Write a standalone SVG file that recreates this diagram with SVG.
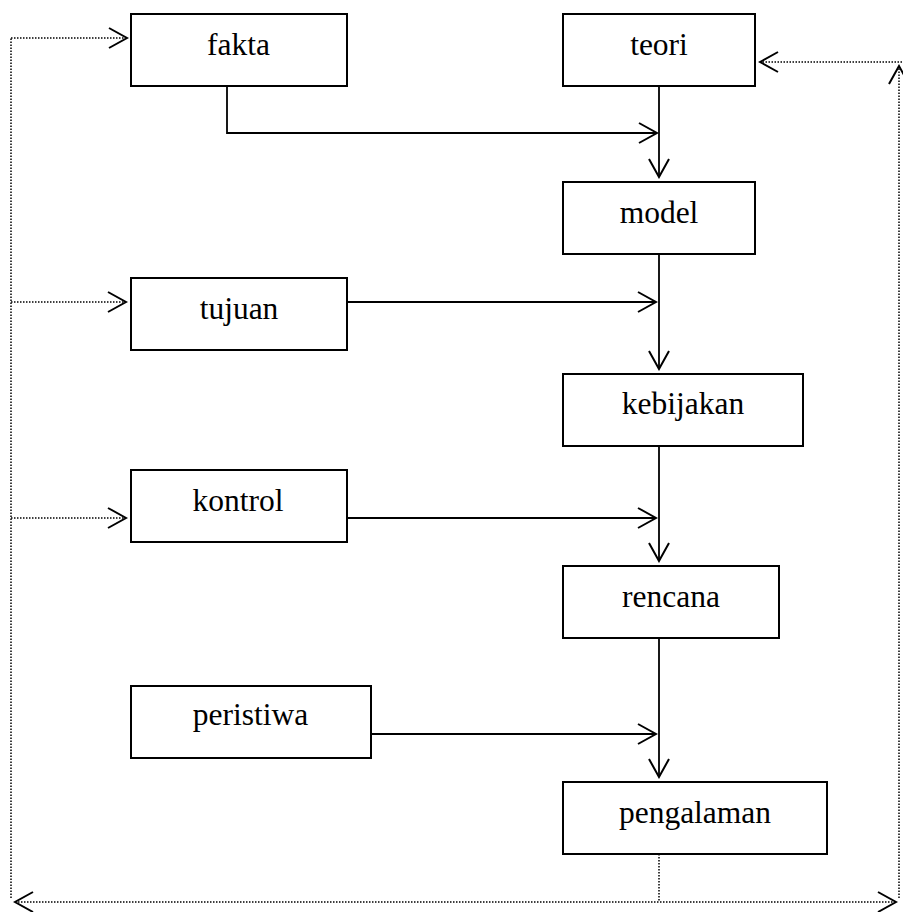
<svg xmlns="http://www.w3.org/2000/svg" width="903" height="912" viewBox="0 0 903 912">
<style>
.box{fill:#fff;stroke:#000;stroke-width:2}
.lbl{font-family:"Liberation Serif","Times New Roman",serif;font-size:31.5px;text-anchor:middle;fill:#000}
.ln{fill:none;stroke:#000;stroke-width:1.8}
.dot{fill:none;stroke:#000;stroke-width:1.5;stroke-dasharray:1.5 1.5}
</style>
<defs>
<marker id="ah" viewBox="-2 -2 22 24" markerWidth="22" markerHeight="24" refX="18" refY="10" orient="auto-start-reverse" markerUnits="userSpaceOnUse">
<path d="M0,0 L18,10 L0,20" fill="none" stroke="#000" stroke-width="2"/>
</marker>
</defs>
<rect width="903" height="912" fill="#fff"/>
<g id="connectors">
<path class="ln" d="M227,86 V133 H657" marker-end="url(#ah)"/>
<path class="ln" d="M659,86 V177" marker-end="url(#ah)"/>
<path class="ln" d="M347,302 H656" marker-end="url(#ah)"/>
<path class="ln" d="M659,254 V369" marker-end="url(#ah)"/>
<path class="ln" d="M347,518 H656" marker-end="url(#ah)"/>
<path class="ln" d="M659,446 V561" marker-end="url(#ah)"/>
<path class="ln" d="M371,734 H656" marker-end="url(#ah)"/>
<path class="ln" d="M659,638 V777" marker-end="url(#ah)"/>
<path class="dot" d="M659,854 V902"/>
<path class="dot" d="M15,902 H896" marker-start="url(#ah)" marker-end="url(#ah)"/>
<path class="dot" d="M11,898 V38"/>
<path class="dot" d="M11,38 H127" marker-end="url(#ah)"/>
<path class="dot" d="M11,302 H126" marker-end="url(#ah)"/>
<path class="dot" d="M11,518 H126" marker-end="url(#ah)"/>
<path class="dot" d="M899,898 V66" marker-end="url(#ah)"/>
<path class="dot" d="M902,62 H760" marker-end="url(#ah)"/>
</g>
<g id="fakta"><rect class="box" x="131" y="14" width="216" height="72"/><text class="lbl" x="238.5" y="55">fakta</text></g>
<g id="teori"><rect class="box" x="563" y="14" width="192" height="72"/><text class="lbl" x="659" y="55">teori</text></g>
<g id="model"><rect class="box" x="563" y="182" width="192" height="72"/><text class="lbl" x="659" y="223">model</text></g>
<g id="tujuan"><rect class="box" x="131" y="278" width="216" height="72"/><text class="lbl" x="239" y="319">tujuan</text></g>
<g id="kebijakan"><rect class="box" x="563" y="374" width="240" height="72"/><text class="lbl" x="683" y="414">kebijakan</text></g>
<g id="kontrol"><rect class="box" x="131" y="470" width="216" height="72"/><text class="lbl" x="238" y="511">kontrol</text></g>
<g id="rencana"><rect class="box" x="563" y="566" width="216" height="72"/><text class="lbl" x="671" y="607">rencana</text></g>
<g id="peristiwa"><rect class="box" x="131" y="686" width="240" height="72"/><text class="lbl" x="250.5" y="725">peristiwa</text></g>
<g id="pengalaman"><rect class="box" x="563" y="782" width="264" height="72"/><text class="lbl" x="695" y="823">pengalaman</text></g>
</svg>
